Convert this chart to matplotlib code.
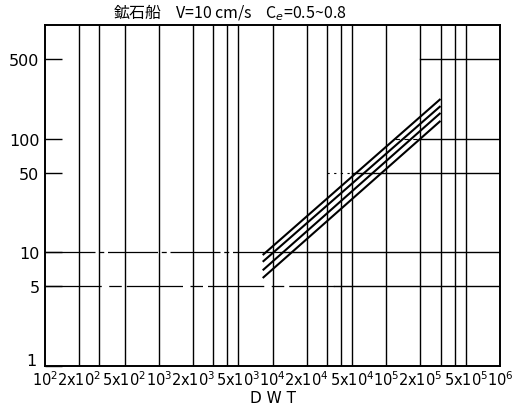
import matplotlib.pyplot as plt
import matplotlib.transforms as mtransforms
import numpy as np

plt.rcParams['font.family'] = ['DejaVu Sans', 'Noto Sans CJK JP']

# 鉱石船の DWT と値の関係 (Ce = 0.5〜0.8 の4本)
dwt_ends = [8.2e3, 3.0e5]
curve_a = [9.4, 223]
curve_b = [8.2, 193]
curve_c = [6.9, 168]
curve_d = [5.9, 143]
curves = [curve_a, curve_b, curve_c, curve_d]

# 縦の罫線 (DWT)
vlines = [2e2, 3e2, 5e2, 1e3,
          2e3, 3e3, 4e3, 5e3, 1e4,
          2e4, 3e4, 4e4, 5e4, 1e5,
          2e5, 3e5, 4e5, 5e5]

x_ticks = [1e2, 2e2, 5e2, 1e3, 2e3, 5e3, 1e4, 2e4, 5e4, 1e5, 2e5, 5e5, 1e6]
x_labels = ['10$^2$', '2x10$^2$', '5x10$^2$', '10$^3$', '2x10$^3$', '5x10$^3$',
            '10$^4$', '2x10$^4$', '5x10$^4$', '10$^5$', '2x10$^5$', '5x10$^5$', '10$^6$']
y_ticks = [1, 5, 10, 50, 100, 500]
y_labels = ['1', '5', '10', '50', '100', '500']

fig = plt.figure(figsize=(5.15, 4.10), dpi=100)
ax = fig.add_axes([45 / 515, 43.5 / 410, 455 / 515, 340.5 / 410])
ax.set_xscale('log')
ax.set_yscale('log')
ax.set_xlim(1e2, 1e6)
ax.set_ylim(1, 1000)

for x in vlines:
    ax.axvline(x, color='black', lw=1.0)

# 横線: 10 と 5 は全幅, 50/100/500 は右側のみ
ax.plot([1e2, 1.2e4], [10, 10], color='black', lw=0.9, ls=(0, (40, 3, 4, 3)))
ax.plot([1.2e4, 1e6], [10, 10], color='black', lw=1.0)
ax.plot([1e2, 3.5e4], [5, 5], color='black', lw=0.9, ls=(0, (45, 6, 10, 4)))
ax.plot([3.5e4, 1e6], [5, 5], color='black', lw=1.0)
ax.plot([3e4, 5e4], [50, 50], color='black', lw=0.8, ls=(0, (2, 4)))
ax.plot([5e4, 1e6], [50, 50], color='black', lw=1.0)
ax.plot([1.2e5, 2e5], [100, 100], color='black', lw=0.8, ls=(0, (4, 4)))
ax.plot([2e5, 1e6], [100, 100], color='black', lw=1.0)
ax.plot([2e5, 1e6], [500, 500], color='black', lw=1.0)

for c in curves:
    ax.plot(dwt_ends, c, color='black', lw=1.5, solid_capstyle='butt')

ax.set_xticks(x_ticks)
ax.set_xticklabels(x_labels, fontsize=10.5)
ax.xaxis.set_minor_locator(plt.NullLocator())
ax.tick_params(axis='x', length=0, pad=3)
ax.set_yticks(y_ticks)
ax.set_yticklabels(y_labels, fontsize=11.5)
ax.yaxis.set_minor_locator(plt.NullLocator())
ax.tick_params(axis='y', direction='in', length=12, width=1.0, pad=4)

# 左下の "1" は x 軸の 10^2 と重ならないよう少し上へ
one = ax.get_yticklabels()[0]
one.set_transform(one.get_transform() +
                  mtransforms.ScaledTranslation(-2 / 72, 5 / 72, fig.dpi_scale_trans))

for s in ax.spines.values():
    s.set_linewidth(1.4)

ax.set_xlabel('D W T', fontsize=11, labelpad=1)
fig.text(230 / 515, 1 - 13 / 410, '鉱石船    V=10 cm/s    C$_e$=0.5~0.8',
         ha='center', va='center', fontsize=11.5,
         family=['Noto Sans CJK JP', 'DejaVu Sans'])

fig.savefig('out.png', dpi=100)
